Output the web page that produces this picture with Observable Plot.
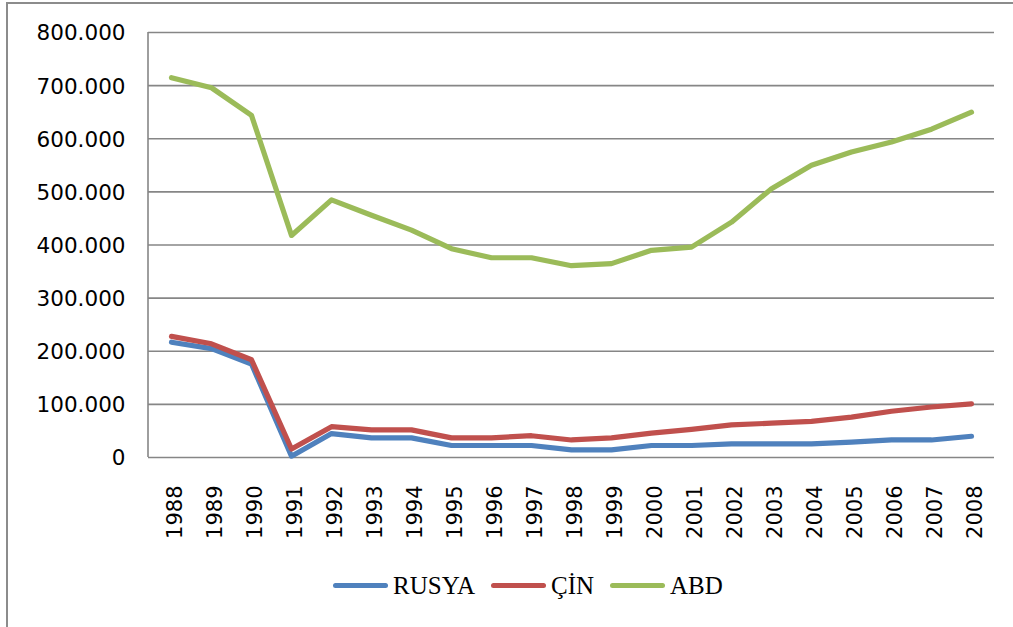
<!DOCTYPE html>
<html><head><meta charset="utf-8">
<script src="https://cdn.jsdelivr.net/npm/d3@7"></script>
<script src="https://cdn.jsdelivr.net/npm/@observablehq/plot@0.6"></script>
<style>
body{margin:0;background:#fff;}
#wrap{position:relative;width:1013px;height:627px;overflow:hidden;background:#fff;}
#border{position:absolute;left:6px;top:2px;width:1100px;height:700px;border-left:2px solid #8c8c8c;border-top:2px solid #8c8c8c;}
#chart{position:absolute;left:0;top:0;}
#legend{position:absolute;left:333px;top:571px;display:flex;align-items:center;font-family:"Liberation Serif",serif;font-size:25px;color:#000;line-height:29px;}
.item{display:flex;align-items:center;margin-right:16px;}
.sw{width:55px;height:5px;border-radius:3px;margin-right:5px;}
</style>
</head><body>
<div id="wrap"><div id="border"></div><div id="chart"></div><div id="legend"></div></div>
<script>
const years = [1988,1989,1990,1991,1992,1993,1994,1995,1996,1997,1998,1999,2000,2001,2002,2003,2004,2005,2006,2007,2008];
const rusya = [217000,205000,176000,2500,45000,37000,37000,22600,22600,22600,14400,14400,22600,22600,25700,25700,25700,29000,33000,33000,40000];
const cin = [228000,214000,184000,16000,58000,52000,52000,37000,37000,41000,33000,37000,46000,53000,61500,64600,68000,76000,87000,95000,101000];
const abd = [715000,696000,644000,418000,485000,456000,428000,393000,376000,376000,361000,365000,390000,396000,443000,506000,550000,575000,594000,618000,650000];
const seriesNames = ["RUSYA","ÇİN","ABD"];
const seriesColors = ["#4F81BD","#C0504D","#9BBB59"];
const yTicks = [0,100000,200000,300000,400000,500000,600000,700000,800000];

const seriesValues = [rusya, cin, abd];
const table = [];
seriesNames.forEach((name, i) => years.forEach((yr, j) => table.push({year: String(yr), value: seriesValues[i][j], series: name})));

const fmt = d => d3.format(",")(d).replace(/,/g, ".");

const chart = Plot.plot({
  width: 1013,
  height: 560,
  marginLeft: 148,
  marginRight: 19,
  marginTop: 32,
  marginBottom: 103,
  style: {fontFamily: "DejaVu Sans", fontSize: "21px", color: "#000", background: "transparent", overflow: "visible"},
  x: {type: "point", domain: years.map(String), padding: 0.5},
  y: {domain: [0, 800000]},
  color: {domain: seriesNames, range: seriesColors},
  marks: [
    Plot.ruleY(yTicks, {stroke: "#868686", strokeWidth: 1.6}),
    Plot.axisY({ticks: yTicks, tickSize: 0, tickPadding: 23, tickFormat: fmt, fontSize: 21.5, label: null, dy: 1}),
    Plot.axisX({tickSize: 0, tickRotate: -90, tickPadding: 28, fontSize: 21, label: null, dx: 4}),
    Plot.line(table, {x: "year", y: "value", z: "series", stroke: "series", strokeWidth: 5.2, strokeLinecap: "round", strokeLinejoin: "round"})
  ]
});
// left axis line drawn from the scales' ranges
const xr = chart.scale("x").range, yr = chart.scale("y").range;
const ax = document.createElementNS("http://www.w3.org/2000/svg", "line");
ax.setAttribute("x1", xr[0]); ax.setAttribute("x2", xr[0]);
ax.setAttribute("y1", yr[0]); ax.setAttribute("y2", yr[1]);
ax.setAttribute("stroke", "#868686"); ax.setAttribute("stroke-width", 1.6);
const lineG = chart.querySelector('g[aria-label="line"]');
if (lineG) chart.insertBefore(ax, lineG); else chart.appendChild(ax);
document.getElementById("chart").appendChild(chart);

const legend = d3.select("#legend");
seriesNames.forEach((name, i) => {
  const it = legend.append("div").attr("class", "item");
  it.append("div").attr("class", "sw").style("background", seriesColors[i]);
  it.append("span").text(name);
});
</script>
</body></html>
